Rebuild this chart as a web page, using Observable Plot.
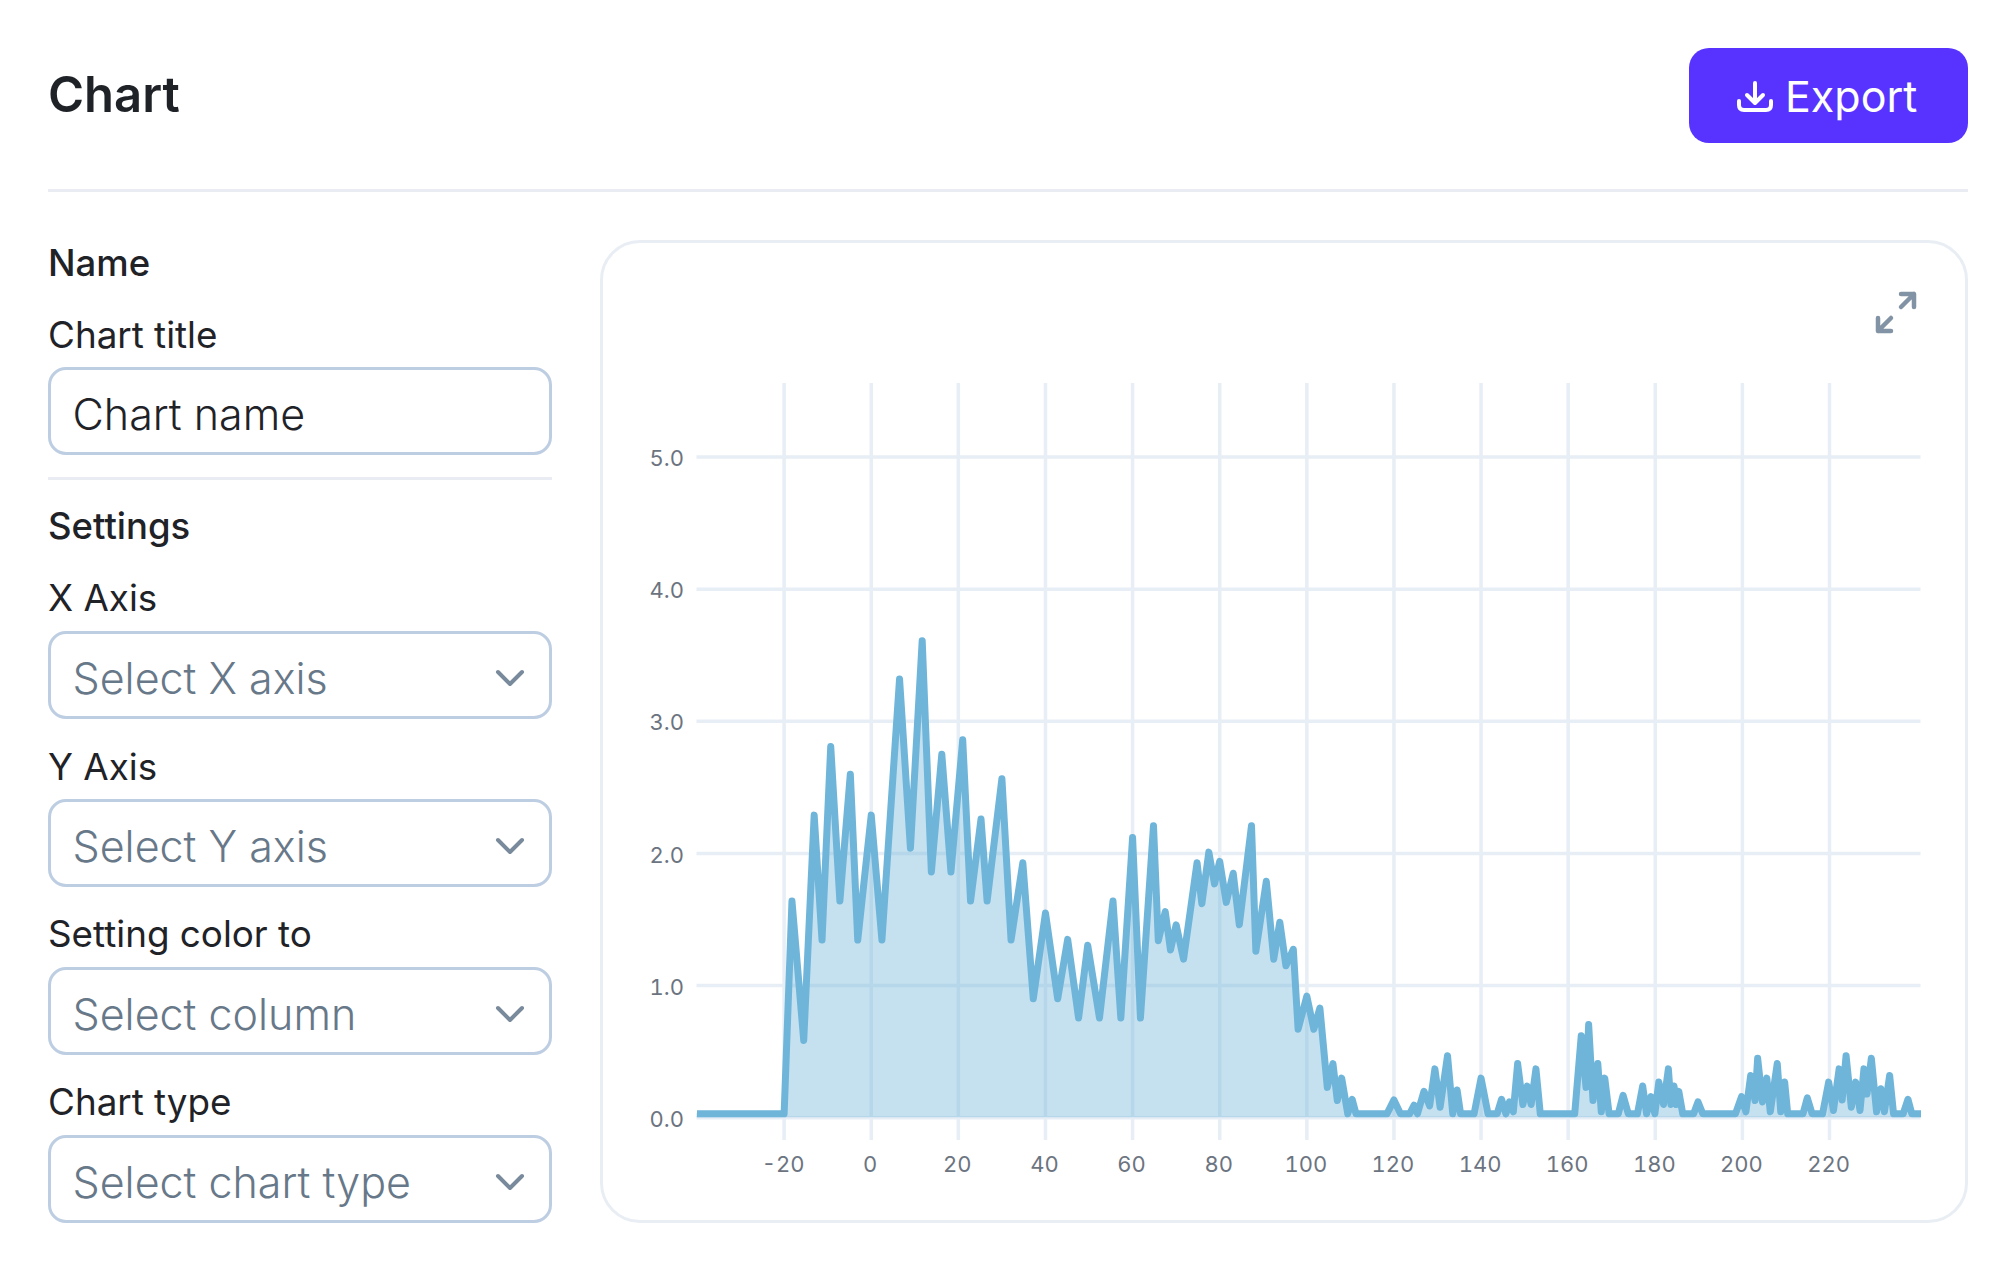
<!DOCTYPE html>
<html>
<head>
<meta charset="utf-8">
<script src="https://cdn.jsdelivr.net/npm/d3@7"></script>
<script src="https://cdn.jsdelivr.net/npm/@observablehq/plot@0.6"></script>
<style>
  html, body { margin: 0; padding: 0; background: #fff; }
  body { position: relative; width: 2016px; height: 1272px; overflow: hidden; font-family: Inter, sans-serif; color: #1f2328; }
  .t { position: absolute; left: 48px; line-height: 1; transform: translateY(-50%); white-space: nowrap; }
  .head { font-size: 36.5px; font-weight: 550; }
  .label { font-size: 36.8px; font-weight: 400; }
  .title { font-size: 49px; font-weight: 600; }
  .box { position: absolute; left: 48px; width: 504px; height: 88px; box-sizing: border-box; border: 3px solid #bdcde2; border-radius: 18px; background: #fff; }
  .box span { position: absolute; left: 21.5px; top: 50%; margin-top: 2.5px; transform: translateY(-50%); font-size: 43px; font-weight: 350; line-height: 1; white-space: nowrap; }
  .box.sel span { color: #677889; }
  .box svg { position: absolute; left: 444px; top: 35px; }
  .rule { position: absolute; height: 3px; background: #e9edf3; }
  #panel { position: absolute; left: 600px; top: 240px; width: 1368px; height: 983px; box-sizing: border-box; border: 3px solid #e9eef4; border-radius: 40px; }
  #btn { position: absolute; left: 1689px; top: 48px; width: 279px; height: 95px; background: #5833ff; border-radius: 20px; }
  #btn span { position: absolute; left: 96px; top: 50%; transform: translateY(-50%); color: #fff; font-size: 43px; line-height: 1; }
  #Chart { position: absolute; left: 600px; top: 343px; }
  #Chart svg { display: block; background: transparent; }
</style>
</head>
<body>
<div class="t title" style="top:94px">Chart</div>
<div id="btn">
  <svg width="279" height="95" style="position:absolute;left:0;top:0" fill="none" stroke="#fff" stroke-width="4" stroke-linecap="round" stroke-linejoin="round">
    <path d="M66 35V54M58 47L66 55L74 47"/>
    <path d="M50 53V57Q50 62 55 62H77Q82 62 82 57V53"/>
  </svg>
  <span>Export</span>
</div>
<div class="rule" style="left:48px;top:189px;width:1920px"></div>

<div class="t head" style="top:263px">Name</div>
<div class="t label" style="top:335px">Chart title</div>
<div class="box" style="top:367px"><span>Chart name</span></div>
<div class="rule" style="left:48px;top:477px;width:504px"></div>
<div class="t head" style="top:526px">Settings</div>
<div class="t label" style="top:598px">X Axis</div>
<div class="box sel" style="top:631px"><span>Select X axis</span><svg width="30" height="18" fill="none" stroke="#788a9b" stroke-width="4" stroke-linecap="round" stroke-linejoin="round"><path d="M3 3L15 15L27 3"/></svg></div>
<div class="t label" style="top:767px">Y Axis</div>
<div class="box sel" style="top:799px"><span>Select Y axis</span><svg width="30" height="18" fill="none" stroke="#788a9b" stroke-width="4" stroke-linecap="round" stroke-linejoin="round"><path d="M3 3L15 15L27 3"/></svg></div>
<div class="t label" style="top:934px">Setting color to</div>
<div class="box sel" style="top:967px"><span>Select column</span><svg width="30" height="18" fill="none" stroke="#788a9b" stroke-width="4" stroke-linecap="round" stroke-linejoin="round"><path d="M3 3L15 15L27 3"/></svg></div>
<div class="t label" style="top:1102px">Chart type</div>
<div class="box sel" style="top:1135px"><span>Select chart type</span><svg width="30" height="18" fill="none" stroke="#788a9b" stroke-width="4" stroke-linecap="round" stroke-linejoin="round"><path d="M3 3L15 15L27 3"/></svg></div>

<div id="panel"></div>
<svg width="60" height="60" style="position:absolute;left:1866px;top:282px" fill="none" stroke="#8193a5" stroke-width="4.5" stroke-linecap="round" stroke-linejoin="round">
  <path d="M35 12H48V25M35 25L48 12"/>
  <path d="M12 36V49H25M25 36L12 49"/>
</svg>
<div id="Chart"></div>

<script>
// values
var seriesX = [
  -40, -20, -18.2, -15.5, -13.1, -11.3, -9.3, -7.2, -4.8, -3.1, 0, 2.45, 6.5, 9, 11.7, 13.8,
  16.2, 18.3, 21, 22.8, 25.2, 26.6, 30, 32.1, 34.8, 37.2, 40, 42.8, 45.1, 47.6, 49.7, 52.4,
  55.5, 57.3, 60, 61.8, 64.8, 65.9, 67.5, 68.7, 70, 71.7, 74.8, 75.9, 77.5, 78.8, 80, 81.5,
  83.1, 84.5, 87.3, 88.3, 90.7, 92.4, 93.8, 95.2, 96.9, 98, 100, 101.6, 103, 104.7, 106, 107,
  108, 109.4, 110.4, 111.3, 118.4, 120, 121.5, 123.6, 124.6, 125.4, 126.9, 128.2, 129.4, 130.6, 132.3, 133.5,
  134.5, 135.3, 138.4, 140, 141.6, 143.7, 144.7, 145.7, 146.5, 147.4, 148.4, 149.6, 150.6, 151.5, 152.6, 153.6,
  161.5, 163, 164.1, 164.7, 165.7, 166.8, 167.6, 168.4, 169.4, 171.5, 172.6, 173.8, 175.9, 177.1, 178, 179,
  179.9, 180.8, 181.9, 183, 183.6, 184.3, 184.8, 185.4, 186.3, 188.8, 189.8, 190.9, 198.4, 199.8, 200.8, 201.9,
  202.9, 203.5, 204.6, 205.6, 206.4, 208, 208.8, 209.7, 210.4, 213.9, 214.9, 216, 218.4, 219.8, 220.9, 222.2,
  222.9, 223.8, 225, 226, 227, 227.9, 228.6, 229.6, 230.8, 231.8, 232.6, 233.8, 234.7, 236.9, 238, 238.9, 241
];
var seriesY = [
  0.03, 0.03, 1.64, 0.585, 2.29, 1.345, 2.81, 1.64, 2.6, 1.345, 2.29, 1.345, 3.32, 2.04, 3.61, 1.86,
  2.75, 1.86, 2.86, 1.64, 2.26, 1.64, 2.565, 1.345, 1.93, 0.9, 1.55, 0.9, 1.35, 0.755, 1.305, 0.755,
  1.64, 0.755, 2.12, 0.755, 2.21, 1.34, 1.56, 1.27, 1.46, 1.2, 1.93, 1.62, 2.01, 1.77, 1.94, 1.63,
  1.85, 1.46, 2.21, 1.26, 1.79, 1.2, 1.48, 1.15, 1.275, 0.67, 0.92, 0.67, 0.83, 0.23, 0.41, 0.13,
  0.3, 0.03, 0.14, 0.03, 0.03, 0.135, 0.03, 0.03, 0.095, 0.03, 0.2, 0.09, 0.37, 0.08, 0.47, 0.03,
  0.21, 0.03, 0.03, 0.3, 0.03, 0.03, 0.14, 0.03, 0.12, 0.045, 0.41, 0.1, 0.24, 0.1, 0.37, 0.03,
  0.03, 0.62, 0.23, 0.705, 0.13, 0.41, 0.045, 0.3, 0.03, 0.03, 0.17, 0.03, 0.03, 0.24, 0.03, 0.16,
  0.03, 0.27, 0.1, 0.37, 0.1, 0.24, 0.1, 0.2, 0.03, 0.03, 0.12, 0.03, 0.03, 0.16, 0.045, 0.32,
  0.13, 0.45, 0.12, 0.3, 0.045, 0.41, 0.045, 0.27, 0.03, 0.03, 0.15, 0.03, 0.03, 0.27, 0.055, 0.37,
  0.135, 0.47, 0.08, 0.27, 0.055, 0.37, 0.18, 0.45, 0.045, 0.22, 0.045, 0.32, 0.03, 0.03, 0.14, 0.03, 0.03
];
var xTicks = [-20, 0, 20, 40, 60, 80, 100, 120, 140, 160, 180, 200, 220];
var yTicks = [0, 1, 2, 3, 4, 5];

var res = seriesX.map((x, i) => ({ x: x, y: seriesY[i] }));
var gridColor = "#e7eef5";
var options = {
  width: 1370,
  height: 857,
  marginLeft: 96.5,
  marginRight: 49.5,
  marginTop: 40,
  marginBottom: 60,
  style: {
    background: "transparent",
    fontFamily: "Inter, sans-serif",
    fontSize: "22px",
    color: "#6b7480",
  },
  x: { domain: [-40, 241] },
  y: { domain: [-0.172, 5.556] },
  marks: [
    Plot.gridX(xTicks, { stroke: gridColor, strokeWidth: 3.5, strokeOpacity: 1 }),
    Plot.gridY(yTicks, { stroke: gridColor, strokeWidth: 3.5, strokeOpacity: 1 }),
    Plot.axisX(xTicks, {
      tickSize: 0,
      tickPadding: 15.5,
      dx: -1,
      tickFormat: (d) => String(d),
      label: null,
    }),
    Plot.axisY(yTicks, {
      tickSize: 0,
      tickPadding: 13,
      dy: 2,
      tickFormat: d3.format(".1f"),
      label: null,
    }),
    // fill goes down to zero, the line sits on top of it
    Plot.areaY(res, { x: "x", y1: 0, y2: "y", fill: "#6fb5da", fillOpacity: 0.4 }),
    Plot.lineY(res, { x: "x", y: "y", stroke: "#6fb5da", strokeWidth: 7, strokeLinecap: "butt" }),
  ],
};
document.getElementById("Chart").append(Plot.plot(options));
</script>
</body>
</html>
